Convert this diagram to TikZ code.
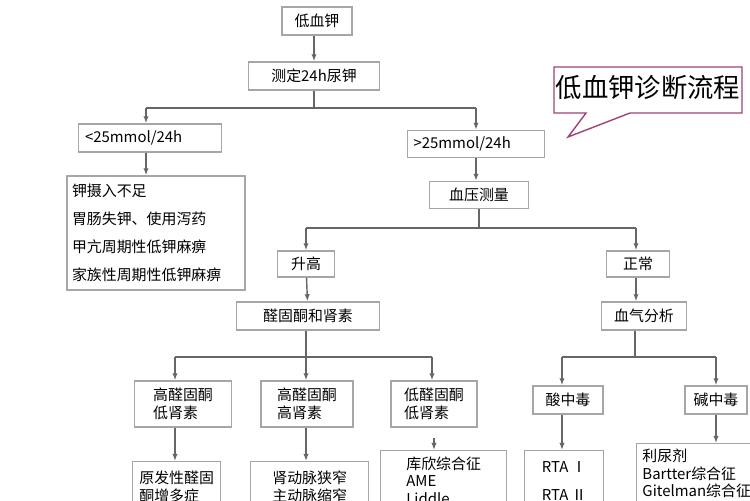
\documentclass[tikz,border=0pt]{standalone}
\usepackage{fontspec}
\setmainfont{Noto Sans CJK SC}
\usetikzlibrary{arrows.meta}
\tikzset{
  box/.style={draw=gray!70, thick, fill=white, inner sep=2pt, font=\fontsize{8.5}{10}\selectfont},
  link/.style={draw=gray!80!black, thick},
  arr/.style={link, -{Latex[length=4pt,width=3pt]}}
}
\begin{document}
\begin{tikzpicture}[x=0.02cm, y=-0.02cm]
    \useasboundingbox (0,0) rectangle (750,500);
    \clip (0,0) rectangle (750,500);
    % top
    \node[box, minimum width=70*0.02cm, minimum height=28*0.02cm] (low) at (317,21) {低血钾};
    \node[box, minimum width=131*0.02cm, minimum height=28*0.02cm] (urine) at (314,76) {测定24h尿钾};
    \node[box, minimum width=143*0.02cm, minimum height=28*0.02cm, text width=130*0.02cm] (lt) at (150,138) {<25mmol/24h};
    \node[box, minimum width=137*0.02cm, minimum height=27*0.02cm, text width=125*0.02cm] (gt) at (476,144) {>25mmol/24h};
    \node[box, minimum width=178*0.02cm, minimum height=114*0.02cm, text width=168*0.02cm, align=left] (causes) at (156,233)
        {钾摄入不足\\[6pt]胃肠失钾、使用泻药\\[6pt]甲亢周期性低钾麻痹\\[6pt]家族性周期性低钾麻痹};
    \node[box, minimum width=99*0.02cm, minimum height=27*0.02cm] (bp) at (479,195) {血压测量};
    % blood pressure
    \node[box, minimum width=57*0.02cm, minimum height=26*0.02cm] (high) at (306,264) {升高};
    \node[box, minimum width=63*0.02cm, minimum height=26*0.02cm] (norm) at (638,264) {正常};
    \node[box, minimum width=143*0.02cm, minimum height=28*0.02cm] (ald) at (308,316) {醛固酮和肾素};
    \node[box, minimum width=85*0.02cm, minimum height=28*0.02cm] (gas) at (644,316) {血气分析};
    % aldosterone / renin
    \node[box, minimum width=97*0.02cm, minimum height=46*0.02cm, align=left] (hl) at (183,404) {高醛固酮\\低肾素};
    \node[box, minimum width=92*0.02cm, minimum height=46*0.02cm, align=left] (hh) at (307,404) {高醛固酮\\高肾素};
    \node[box, minimum width=86*0.02cm, minimum height=46*0.02cm, align=left] (ll) at (434,404) {低醛固酮\\低肾素};
    \node[box, minimum width=70*0.02cm, minimum height=28*0.02cm] (acid) at (568,400) {酸中毒};
    \node[box, minimum width=62*0.02cm, minimum height=28*0.02cm] (alk) at (716,400) {碱中毒};
    % diseases
    \node[box, anchor=north west, minimum width=88*0.02cm, minimum height=50*0.02cm, align=left] (prim) at (132,461) {原发性醛固\\酮增多症};
    \node[box, anchor=north west, minimum width=118*0.02cm, minimum height=50*0.02cm, align=left] (renal) at (250,461) {肾动脉狭窄\\主动脉缩窄};
    \node[box, anchor=north west, minimum width=126*0.02cm, minimum height=60*0.02cm, align=left] (cush) at (380,450) {库欣综合征\\AME\\Liddle};
    \node[box, anchor=north west, minimum width=79*0.02cm, minimum height=60*0.02cm, align=left] (rta) at (524,450) {RTA Ⅰ\\[6pt]RTA Ⅱ};
    \node[box, anchor=north west, minimum width=120*0.02cm, minimum height=60*0.02cm, align=left] (diur) at (636,443) {利尿剂\\Bartter综合征\\Gitelman综合征};
    % callout
    \draw[draw=magenta!60!black, thick, fill=white] (554,67) -- (742,67) -- (742,113) -- (630,113) -- (568,137) -- (586,113) -- (554,113) -- cycle;
    \node[font=\fontsize{15}{18}\selectfont] (title) at (648,88) {低血钾诊断流程};
    % connectors
    \draw[arr] (low.south -| urine) -- (urine);
    \draw[link] (urine.south) |- (146,108) coordinate (j1l);
    \draw[link] (urine.south |- j1l) -- (476,108) coordinate (j1r);
    \draw[arr] (j1l) -- (j1l |- lt.north);
    \draw[arr] (j1r) -- (gt.north);
    \draw[arr] (lt.south -| 146,0) -- (causes.north -| 146,0);
    \draw[arr] (gt.south) -- (bp.north -| gt.south);
    \draw[link] (bp.south) -- (bp.south |- 0,228) coordinate (j2);
    \draw[link] (306,228) coordinate (j2l) -- (636,228) coordinate (j2r);
    \draw[arr] (j2l) -- (high.north);
    \draw[arr] (j2r) -- (j2r |- norm.north);
    \draw[arr] (high) -- (ald);
    \draw[arr] (norm.south -| j2r) -- (gas.north -| j2r);
    \draw[link] (ald.south -| 306,0) -- (306,357) coordinate (j3);
    \draw[link] (175,357) coordinate (j3l) -- (432,357) coordinate (j3r);
    \draw[arr] (j3l) -- (j3l |- hl.north);
    \draw[arr] (j3) -- (j3 |- hh.north);
    \draw[arr] (j3r) -- (j3r |- ll.north);
    \draw[link] (gas.south -| 635,0) -- (635,357) coordinate (j4);
    \draw[link] (562,357) coordinate (j4l) -- (716,357) coordinate (j4r);
    \draw[arr] (j4l) -- (j4l |- acid.north);
    \draw[arr] (j4r) -- (alk.north);
    \draw[arr] (hl.south -| j3l) -- (prim.north -| j3l);
    \draw[arr] (hh.south -| j3) -- (renal.north -| j3);
    \draw[arr] (434,438) -- (cush.north -| 434,0);
    \draw[arr] (acid.south -| j4l) -- (rta.north -| j4l);
    \draw[arr] (alk) -- (diur.north -| alk);
\end{tikzpicture}
\end{document}
